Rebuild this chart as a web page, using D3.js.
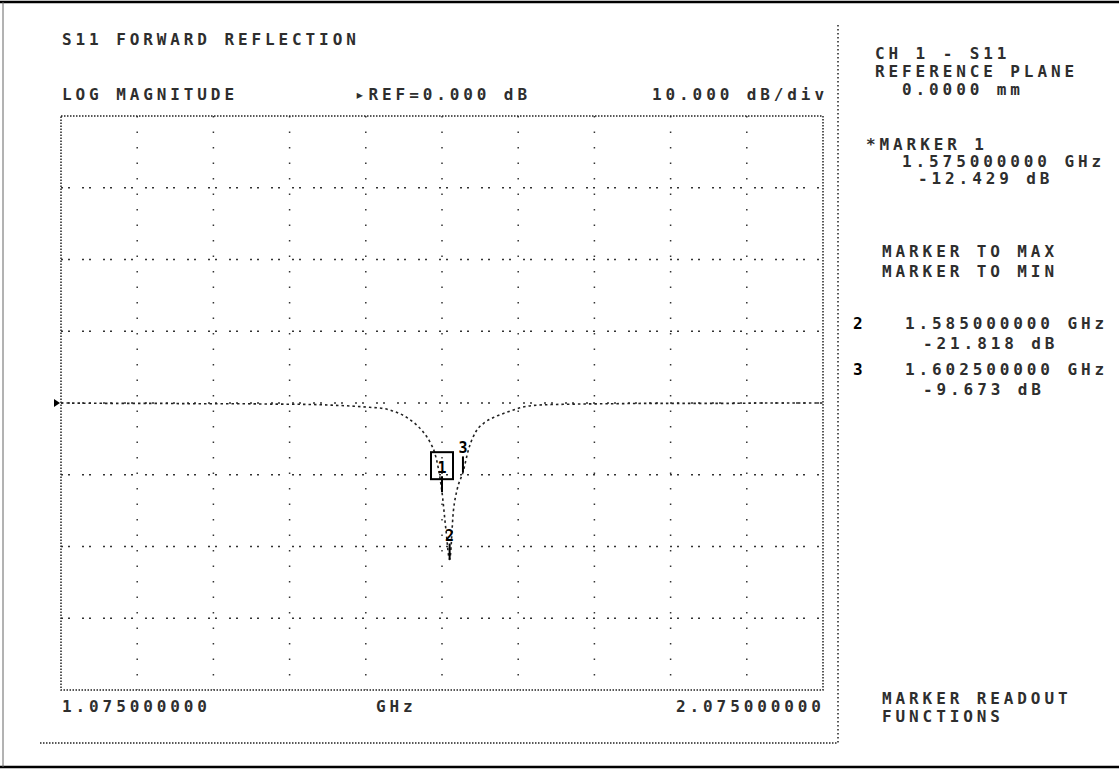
<!DOCTYPE html>
<html>
<head>
<meta charset="utf-8">
<script src="https://cdn.jsdelivr.net/npm/d3@7"></script>
<style>
  html, body { margin: 0; padding: 0; background: #fff; }
  svg { display: block; }
  .mono { font-family: "DejaVu Sans Mono", "Liberation Mono", monospace; font-weight: bold; font-size: 16px; letter-spacing: 3.9px; }
</style>
</head>
<body>
<svg id="chart" width="1119" height="773"></svg>
<script>
// S11 sweep, log magnitude (GHz, dB)
const freqGHz = [1.075, 1.15, 1.20, 1.25, 1.30, 1.35, 1.40, 1.43, 1.46, 1.48, 1.50, 1.51, 1.52, 1.53, 1.54, 1.55, 1.56, 1.565, 1.57, 1.575, 1.58, 1.585, 1.59, 1.595, 1.6025, 1.61, 1.62, 1.63, 1.645, 1.66, 1.68, 1.70, 1.75, 1.80, 1.85, 1.90, 1.95, 2.00, 2.075];
const s11dB   = [0.0, -0.05, -0.05, -0.1, -0.1, -0.15, -0.2, -0.3, -0.45, -0.6, -0.8, -1.1, -1.5, -2.1, -2.9, -4.0, -5.6, -6.8, -9.0, -12.429, -17.5, -21.818, -15.0, -12.0, -9.673, -6.4, -3.9, -2.8, -1.9, -1.3, -0.6, -0.3, -0.15, -0.1, -0.05, -0.05, -0.05, 0.0, 0.0];

// Markers
const markerIds  = [1, 2, 3];
const markerFreq = [1.575, 1.585, 1.6025];
const markerDb   = [-12.429, -21.818, -9.673];
const markerFreqText = ["1.575000000 GHz", "1.585000000 GHz", "1.602500000 GHz"];
const markerDbText   = ["-12.429 dB", "-21.818 dB", "-9.673 dB"];

// Sweep and scale settings
const startFreq = 1.075, stopFreq = 2.075;
const refLevel = 0, dbPerDiv = 10;
const startLabel = "1.075000000", centerLabel = "GHz", stopLabel = "2.075000000";
const headerLabels = ["LOG MAGNITUDE", "\u25B8REF=0.000 dB", "10.000 dB/div"];
const sideLabels = ["CH 1 - S11", "REFERENCE PLANE", "0.0000 mm"];

const svg = d3.select("#chart");

const x = d3.scaleLinear().domain([startFreq, stopFreq]).range([61, 823]);
const y = d3.scaleLinear().domain([refLevel - 4 * dbPerDiv, refLevel + 4 * dbPerDiv]).range([690, 116]);

// page edges
svg.append("line").attr("x1", 0).attr("x2", 1119).attr("y1", 2).attr("y2", 2).attr("stroke", "#000").attr("stroke-width", 2.5);
svg.append("line").attr("x1", 0).attr("x2", 1119).attr("y1", 767).attr("y2", 767).attr("stroke", "#000").attr("stroke-width", 2.5);
svg.append("line").attr("x1", 3).attr("x2", 3).attr("y1", 2).attr("y2", 767).attr("stroke", "#666").attr("stroke-width", 1);

// dotted enclosure of the display area
svg.append("line").attr("x1", 40).attr("x2", 838).attr("y1", 743).attr("y2", 743)
  .attr("stroke", "#222").attr("stroke-width", 1.5).attr("stroke-dasharray", "1.5,1.5");
svg.append("line").attr("x1", 838).attr("x2", 838).attr("y1", 25).attr("y2", 743)
  .attr("stroke", "#222").attr("stroke-width", 1.5).attr("stroke-dasharray", "1.5,2.5");

// graticule
const xDivs = d3.range(11).map(i => startFreq + i * (stopFreq - startFreq) / 10);
const yDivs = d3.range(9).map(i => refLevel - 4 * dbPerDiv + i * dbPerDiv);

const grid = svg.append("g");
grid.selectAll(".vg").data(xDivs.slice(1, -1)).join("line")
  .attr("x1", d => x(d)).attr("x2", d => x(d)).attr("y1", 116).attr("y2", 690)
  .attr("stroke", "#333").attr("stroke-width", 1.5).attr("stroke-dasharray", "1.5,14");
grid.selectAll(".hg").data(yDivs.slice(1, -1)).join("line")
  .attr("x1", 61).attr("x2", 823).attr("y1", d => y(d)).attr("y2", d => y(d))
  .attr("stroke", "#333").attr("stroke-width", 1.5).attr("stroke-dasharray", "2,5,2,12");

// plot border
grid.append("rect").attr("x", 61).attr("y", 116).attr("width", 762).attr("height", 574)
  .attr("fill", "none").attr("stroke", "#222").attr("stroke-width", 1.5).attr("stroke-dasharray", "1.5,1.5");

// reference position arrow
svg.append("path")
  .attr("d", `M${x(startFreq) - 7},${y(refLevel) - 4}L${x(startFreq) - 1},${y(refLevel)}L${x(startFreq) - 7},${y(refLevel) + 4}Z`)
  .attr("fill", "#000");

// trace
const line = d3.line().x((d, i) => x(freqGHz[i])).y(d => y(d)).curve(d3.curveMonotoneX);
svg.append("path").datum(s11dB).attr("d", line)
  .attr("fill", "none").attr("stroke", "#222").attr("stroke-width", 1.6).attr("stroke-dasharray", "2.5,3");

// marker symbols
const mk = svg.append("g");
markerIds.forEach((id, i) => {
  const px = x(markerFreq[i]), py = y(markerDb[i]);
  mk.append("line").attr("x1", px).attr("x2", px).attr("y1", py - 16).attr("y2", py)
    .attr("stroke", "#000").attr("stroke-width", 2);
  mk.append("text").attr("x", px).attr("y", py - 19).attr("text-anchor", "middle")
    .attr("font-family", "DejaVu Sans Mono, monospace").attr("font-weight", "bold")
    .attr("font-size", 15).attr("fill", "#000").text(id);
  if (id === 1) {
    mk.append("rect").attr("x", px - 11).attr("y", py - 40).attr("width", 22).attr("height", 27)
      .attr("fill", "none").attr("stroke", "#000").attr("stroke-width", 2);
  }
});

// text
function txt(tx, ty, s, opts = {}) {
  return svg.append("text").attr("class", "mono").attr("x", tx).attr("y", ty)
    .attr("fill", opts.solid ? "#000" : "#2e2e2e")
    .text(s);
}

txt(62, 45, "S11 FORWARD REFLECTION");
txt(62, 100, headerLabels[0]);
txt(355, 100, headerLabels[1]);
txt(652, 100, headerLabels[2]);

txt(62, 712, startLabel);
txt(376, 712, centerLabel);
txt(676, 712, stopLabel);

txt(875, 59, sideLabels[0]);
txt(875, 77, sideLabels[1]);
txt(902, 95, sideLabels[2]);

txt(866, 150, "*MARKER " + markerIds[0]);
txt(902, 167, markerFreqText[0]);
txt(918, 184, markerDbText[0]);

txt(882, 257, "MARKER TO MAX");
txt(882, 277, "MARKER TO MIN");

txt(853, 329, String(markerIds[1]), { solid: true });
txt(905, 329, markerFreqText[1]);
txt(923, 349, markerDbText[1]);

txt(853, 375, String(markerIds[2]), { solid: true });
txt(905, 375, markerFreqText[2]);
txt(923, 395, markerDbText[2]);

txt(882, 704, "MARKER READOUT");
txt(882, 722, "FUNCTIONS");
</script>
</body>
</html>
